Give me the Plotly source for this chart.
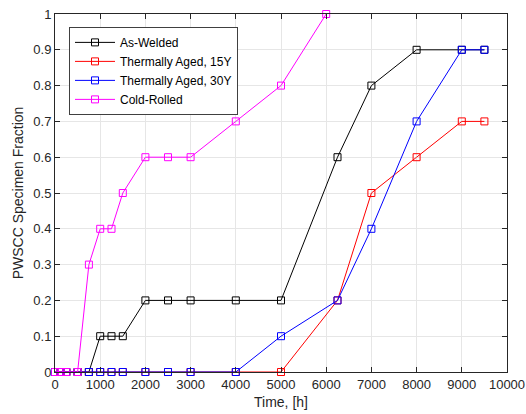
import plotly.graph_objects as go

x_aw = [0, 125, 250, 500, 750, 1000, 1250, 1500, 2000, 2500, 3000, 4000, 5000, 6250, 7000, 8000, 9000, 9500]
y_aw = [0, 0, 0, 0, 0, 0.1, 0.1, 0.1, 0.2, 0.2, 0.2, 0.2, 0.2, 0.6, 0.8, 0.9, 0.9, 0.9]

x_t15 = [0, 125, 250, 500, 750, 1000, 1250, 1500, 2000, 2500, 3000, 4000, 5000, 6250, 7000, 8000, 9000, 9500]
y_t15 = [0, 0, 0, 0, 0, 0, 0, 0, 0, 0, 0, 0, 0, 0.2, 0.5, 0.6, 0.7, 0.7]

x_t30 = [0, 125, 250, 500, 750, 1000, 1250, 1500, 2000, 2500, 3000, 4000, 5000, 6250, 7000, 8000, 9000, 9500]
y_t30 = [0, 0, 0, 0, 0, 0, 0, 0, 0, 0, 0, 0, 0.1, 0.2, 0.4, 0.7, 0.9, 0.9]

x_cr = [0, 125, 250, 500, 750, 1000, 1250, 1500, 2000, 2500, 3000, 4000, 5000, 6000]
y_cr = [0, 0, 0, 0, 0.3, 0.4, 0.4, 0.5, 0.6, 0.6, 0.6, 0.7, 0.8, 1.0]

x_ticks = [0, 1000, 2000, 3000, 4000, 5000, 6000, 7000, 8000, 9000, 10000]
y_ticks = [0, 0.1, 0.2, 0.3, 0.4, 0.5, 0.6, 0.7, 0.8, 0.9, 1]
y_ticktext = ["0", "0.1", "0.2", "0.3", "0.4", "0.5", "0.6", "0.7", "0.8", "0.9", "1"]

names = ["As-Welded", "Thermally Aged, 15Y", "Thermally Aged, 30Y", "Cold-Rolled"]
colors = ["#000000", "#ff0000", "#0000ff", "#ff00ff"]
series = [(x_aw, y_aw), (x_t15, y_t15), (x_t30, y_t30), (x_cr, y_cr)]

FONT = "Liberation Sans, Arial, sans-serif"

fig = go.Figure()
for (xs, ys), n, c in zip(series, names, colors):
    fig.add_trace(go.Scatter(
        x=xs, y=ys, name=n, mode="lines+markers",
        line=dict(color=c, width=1),
        marker=dict(symbol="square-open", size=7, color=c, line=dict(width=1, color=c)),
        cliponaxis=False,
    ))

axis_common = dict(
    showgrid=True, gridcolor="#e6e6e6", gridwidth=1,
    showline=True, linecolor="#262626", linewidth=1, mirror="ticks",
    ticks="inside", ticklen=5, tickcolor="#262626",
    zeroline=False, automargin=False,
    tickfont=dict(family=FONT, size=13, color="#262626"),
)

fig.update_layout(
    width=526, height=414,
    margin=dict(l=55, r=19, t=14, b=42),
    paper_bgcolor="white", plot_bgcolor="white",
    font=dict(family=FONT, color="#262626"),
    showlegend=True,
    legend=dict(
        x=0.031, y=0.964, xanchor="left", yanchor="top",
        bgcolor="white", bordercolor="#404040", borderwidth=1,
        font=dict(size=12, color="#000000"),
        tracegroupgap=0, itemwidth=40,
    ),
    xaxis=dict(
        range=[0, 10000], tickvals=x_ticks,
        ticktext=[str(v) for v in x_ticks],
        title=dict(text="Time, [h]", font=dict(size=14, color="#262626"), standoff=6),
        **axis_common,
    ),
    yaxis=dict(
        range=[0, 1], tickvals=y_ticks, ticktext=y_ticktext,
        title=dict(text="PWSCC Specimen Fraction", font=dict(size=14, color="#262626"), standoff=6),
        **axis_common,
    ),
)

fig.write_html(
    "out.html",
    config={"displayModeBar": False},
    post_script="document.body.style.margin='0';document.body.style.overflow='hidden';",
)
